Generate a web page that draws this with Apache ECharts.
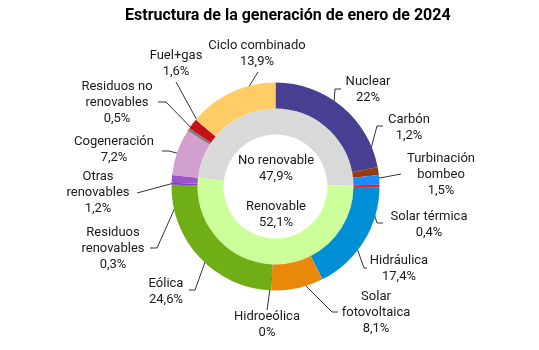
<!DOCTYPE html>
<html>
<head>
<meta charset="utf-8">
<script src="https://cdn.jsdelivr.net/npm/echarts@6/dist/echarts.min.js"></script>
<style>
html, body { margin: 0; padding: 0; background: #fff; }
#main { width: 539px; height: 350px; }
</style>
</head>
<body>
<div id="main"></div>
<script>
// datos del gráfico
var fuentes = ['Nuclear', 'Carbón', 'Turbinación\nbombeo', 'Solar térmica', 'Hidráulica',
    'Solar\nfotovoltaica', 'Hidroeólica', 'Eólica', 'Residuos\nrenovables', 'Otras\nrenovables',
    'Cogeneración', 'Residuos no\nrenovables', 'Fuel+gas', 'Ciclo combinado'];
var porcentajes = [22, 1.2, 1.5, 0.4, 17.4, 8.1, 0, 24.6, 0.3, 1.2, 7.2, 0.5, 1.6, 13.9];
var grupos = ['No renovable', 'Renovable'];
var gruposPct = [47.9, 52.1];

var colores = ['#463f92', '#983b0c', '#1a8cff', '#ff1a1a', '#008fd5', '#e8890c', '#5bb0e0',
    '#6fae14', '#8040b8', '#9a55c8', '#d1a0cf', '#808080', '#c8101a', '#ffcc66'];
var coloresGrupo = ['#d9d9d9', '#ccff99'];

// posiciones de las etiquetas y final de las guías
var etiquetas = [
    {x: 368, y: 90, guia: [[335, 89], [341, 89]]},
    {x: 409, y: 128, guia: [[377, 126], [383, 126]]},
    {x: 441, y: 175, guia: [[401, 174]]},
    {x: 429, y: 225, guia: [[377, 223], [383, 223]]},
    {x: 399, y: 269, guia: [[364, 268], [367, 268]]},
    {x: 376, y: 313, guia: [[332, 312], [338, 312]]},
    {x: 267, y: 325, guia: [[267, 310]]},
    {x: 166, y: 292, guia: [[195, 290], [189, 290]]},
    {x: 113, y: 249, guia: [[157, 248], [150, 248]]},
    {x: 98, y: 193, guia: [[137, 193]]},
    {x: 114, y: 150, guia: [[169, 151], [162, 151]]},
    {x: 117, y: 103, guia: [[166, 102], [158, 102]]},
    {x: 176, y: 64, guia: [[176, 82]]},
    {x: 257, y: 54, guia: [[258, 72]]}
];
var etiquetasGrupo = [{x: 276, y: 169}, {x: 276, y: 215}];

var cx = 275.5, cy = 186.5;

function pct(v) {
    return String(v).replace('.', ',') + '%';
}

var total = porcentajes.reduce(function (a, b) { return a + b; }, 0);
// ángulo medio de cada sector (desde arriba, sentido horario)
var acum = 0;
var medios = porcentajes.map(function (v) {
    var m = (acum + v / 2) / total * Math.PI * 2;
    acum += v;
    return m;
});
// el anillo interior empieza donde empieza Cogeneración
var idxCog = fuentes.indexOf('Cogeneración');
var cola = porcentajes.slice(idxCog).reduce(function (a, b) { return a + b; }, 0);
var inicioInterior = 90 + 360 * cola / total;

var myChart = echarts.init(document.getElementById('main'));
var option = {
    title: {
        text: 'Estructura de la generación de enero de 2024',
        left: 120,
        top: 3,
        textStyle: {
            fontFamily: 'Roboto',
            fontSize: 16,
            fontWeight: 'bold',
            color: '#000'
        }
    },
    series: [{
        name: 'Grupo',
        type: 'pie',
        center: [cx, cy],
        radius: [52, 78],
        startAngle: inicioInterior,
        silent: true,
        label: {
            show: true,
            position: 'inside',
            fontFamily: 'Roboto',
            fontSize: 13,
            lineHeight: 16,
            color: '#1a1a1a',
            formatter: function (p) { return p.name + '\n' + pct(p.value); }
        },
        labelLine: { show: false },
        labelLayout: function (p) {
            var e = etiquetasGrupo[p.dataIndex];
            return { x: e.x, y: e.y, align: 'center', verticalAlign: 'middle' };
        },
        data: grupos.map(function (n, i) {
            return { name: n, value: gruposPct[i], itemStyle: { color: coloresGrupo[i] } };
        })
    }, {
        name: 'Fuente',
        type: 'pie',
        center: [cx, cy],
        radius: [78, 104],
        startAngle: 90,
        silent: true,
        avoidLabelOverlap: false,
        label: {
            show: true,
            position: 'outside',
            fontFamily: 'Roboto',
            fontSize: 13,
            lineHeight: 16,
            align: 'center',
            color: '#1a1a1a',
            formatter: function (p) { return p.name + '\n' + pct(p.value); }
        },
        labelLine: {
            show: true,
            lineStyle: { color: '#333', width: 1 }
        },
        labelLayout: function (p) {
            var e = etiquetas[p.dataIndex];
            var a = medios[p.dataIndex];
            var inicio = [cx + 90 * Math.sin(a), cy - 90 * Math.cos(a)];
            return {
                x: e.x,
                y: e.y,
                align: 'center',
                verticalAlign: 'middle',
                labelLinePoints: [inicio].concat(e.guia)
            };
        },
        data: fuentes.map(function (n, i) {
            return { name: n, value: porcentajes[i], itemStyle: { color: colores[i] } };
        })
    }]
};
myChart.setOption(option);
</script>
</body>
</html>
